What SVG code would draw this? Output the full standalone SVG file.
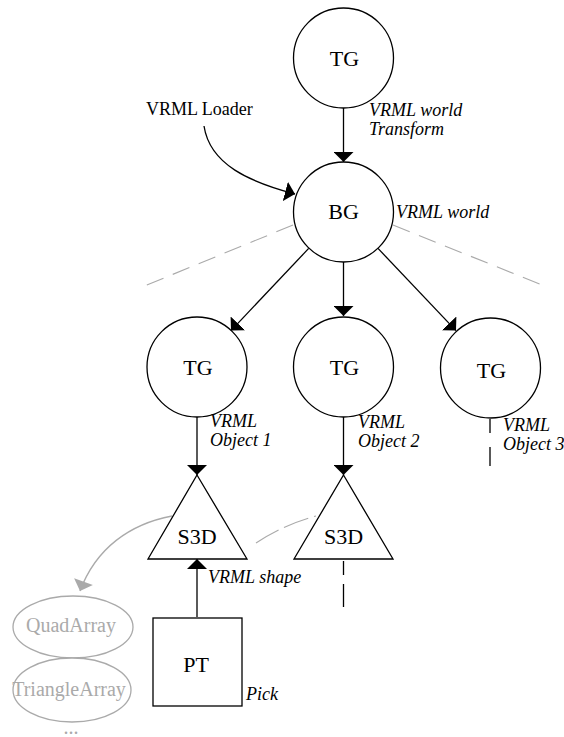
<svg xmlns="http://www.w3.org/2000/svg" width="564" height="737" viewBox="0 0 564 737">
<style>
.node{fill:#fff;stroke:#000;stroke-width:1.3}
.lbl{font-family:"Liberation Serif","Times New Roman",serif;font-size:22px;fill:#000;text-anchor:middle}
.it{font-family:"Liberation Serif","Times New Roman",serif;font-size:18px;font-style:italic;fill:#000}
.txt{font-family:"Liberation Serif","Times New Roman",serif;font-size:18px;fill:#000}
.glbl{font-family:"Liberation Serif","Times New Roman",serif;font-size:20px;fill:#aaa;text-anchor:middle}
.gnode{fill:#fff;stroke:#aaa;stroke-width:1.3}
.edge{fill:none;stroke:#000;stroke-width:1.3}
.dash{fill:none;stroke:#000;stroke-width:1.3}
.gdash{fill:none;stroke:#aaa;stroke-width:1.1;stroke-dasharray:18 10}
.gedge{fill:none;stroke:#aaa;stroke-width:1.3}
</style>
<defs>
<marker id="ah" viewBox="0 0 10 20" refX="10" refY="10" markerWidth="10" markerHeight="20" markerUnits="userSpaceOnUse" orient="auto">
<path d="M0,0 L10,10 L0,20 z" fill="#000"/>
</marker>
<marker id="gah" viewBox="0 0 10 20" refX="10" refY="10" markerWidth="11" markerHeight="20" markerUnits="userSpaceOnUse" orient="auto">
<path d="M0,0 L10,10 L0,20 z" fill="#aaa"/>
</marker>
</defs>
<g id="connectors">
<line class="edge" x1="343.5" y1="108" x2="343.5" y2="162" marker-end="url(#ah)"/>
<path class="edge" d="M204,126 C210,165 250,182 295,194" marker-end="url(#ah)"/>
<line class="edge" x1="308.7" y1="248.4" x2="231" y2="330.6" marker-end="url(#ah)"/>
<line class="edge" x1="343.5" y1="262" x2="343.5" y2="316" marker-end="url(#ah)"/>
<line class="edge" x1="378" y1="248.4" x2="456" y2="330.6" marker-end="url(#ah)"/>
<path class="gdash" d="M293,225 L142,287"/>
<path class="gdash" d="M393,225 L547,287"/>
<line class="edge" x1="197" y1="417" x2="197" y2="475" marker-end="url(#ah)"/>
<line class="edge" x1="343.5" y1="417" x2="343.5" y2="475" marker-end="url(#ah)"/>
<line class="dash" x1="490" y1="419" x2="490" y2="467" stroke-dasharray="14 14 19"/>
<line class="dash" x1="343.5" y1="561" x2="343.5" y2="607" stroke-dasharray="14 9 23"/>
<line class="edge" x1="197" y1="617" x2="197" y2="559" marker-end="url(#ah)"/>
<path class="gdash" d="M256,543 Q285,524 316,516" style="stroke-dasharray:26 6"/>
<path class="gedge" d="M172,516 C130,524 96,548 80,591" marker-end="url(#gah)"/>
</g>
<g id="tg_top">
<circle class="node" cx="343.5" cy="58" r="50"/>
<text class="lbl" x="344.5" y="66">TG</text>
<text class="it" x="369" y="116">VRML world</text>
<text class="it" x="369" y="135">Transform</text>
</g>
<g id="loader">
<text class="txt" x="146" y="115">VRML Loader</text>
</g>
<g id="bg">
<circle class="node" cx="343.5" cy="212" r="50"/>
<text class="lbl" x="343.5" y="219">BG</text>
<text class="it" x="396" y="218">VRML world</text>
</g>
<g id="tg1">
<circle class="node" cx="197" cy="367" r="50"/>
<text class="lbl" x="198" y="375">TG</text>
<text class="it" x="210" y="427">VRML</text>
<text class="it" x="210" y="446">Object 1</text>
</g>
<g id="tg2">
<circle class="node" cx="343.5" cy="367" r="50"/>
<text class="lbl" x="344.5" y="375">TG</text>
<text class="it" x="358" y="428">VRML</text>
<text class="it" x="358" y="447">Object 2</text>
</g>
<g id="tg3">
<circle class="node" cx="490.5" cy="368" r="50"/>
<text class="lbl" x="491.5" y="378">TG</text>
<text class="it" x="503" y="431">VRML</text>
<text class="it" x="503" y="450">Object 3</text>
</g>
<g id="s3d1">
<polygon class="node" points="197,475 247,559 148,559"/>
<text class="lbl" x="197" y="544">S3D</text>
<text class="it" x="208" y="583">VRML shape</text>
</g>
<g id="s3d2">
<polygon class="node" points="343.5,475 393,559 294,559"/>
<text class="lbl" x="343.5" y="544">S3D</text>
</g>
<g id="pt">
<rect class="node" x="153" y="618" width="89" height="88"/>
<text class="lbl" x="196" y="672">PT</text>
<text class="it" x="246" y="700">Pick</text>
</g>
<g id="quadarray">
<ellipse class="gnode" cx="73" cy="627" rx="60" ry="31"/>
<text class="glbl" x="71" y="632">QuadArray</text>
</g>
<g id="trianglearray">
<ellipse class="gnode" cx="72" cy="690" rx="59" ry="32"/>
<text class="glbl" x="69" y="696">TriangleArray</text>
<text class="glbl" x="71" y="734">...</text>
</g>
</svg>
